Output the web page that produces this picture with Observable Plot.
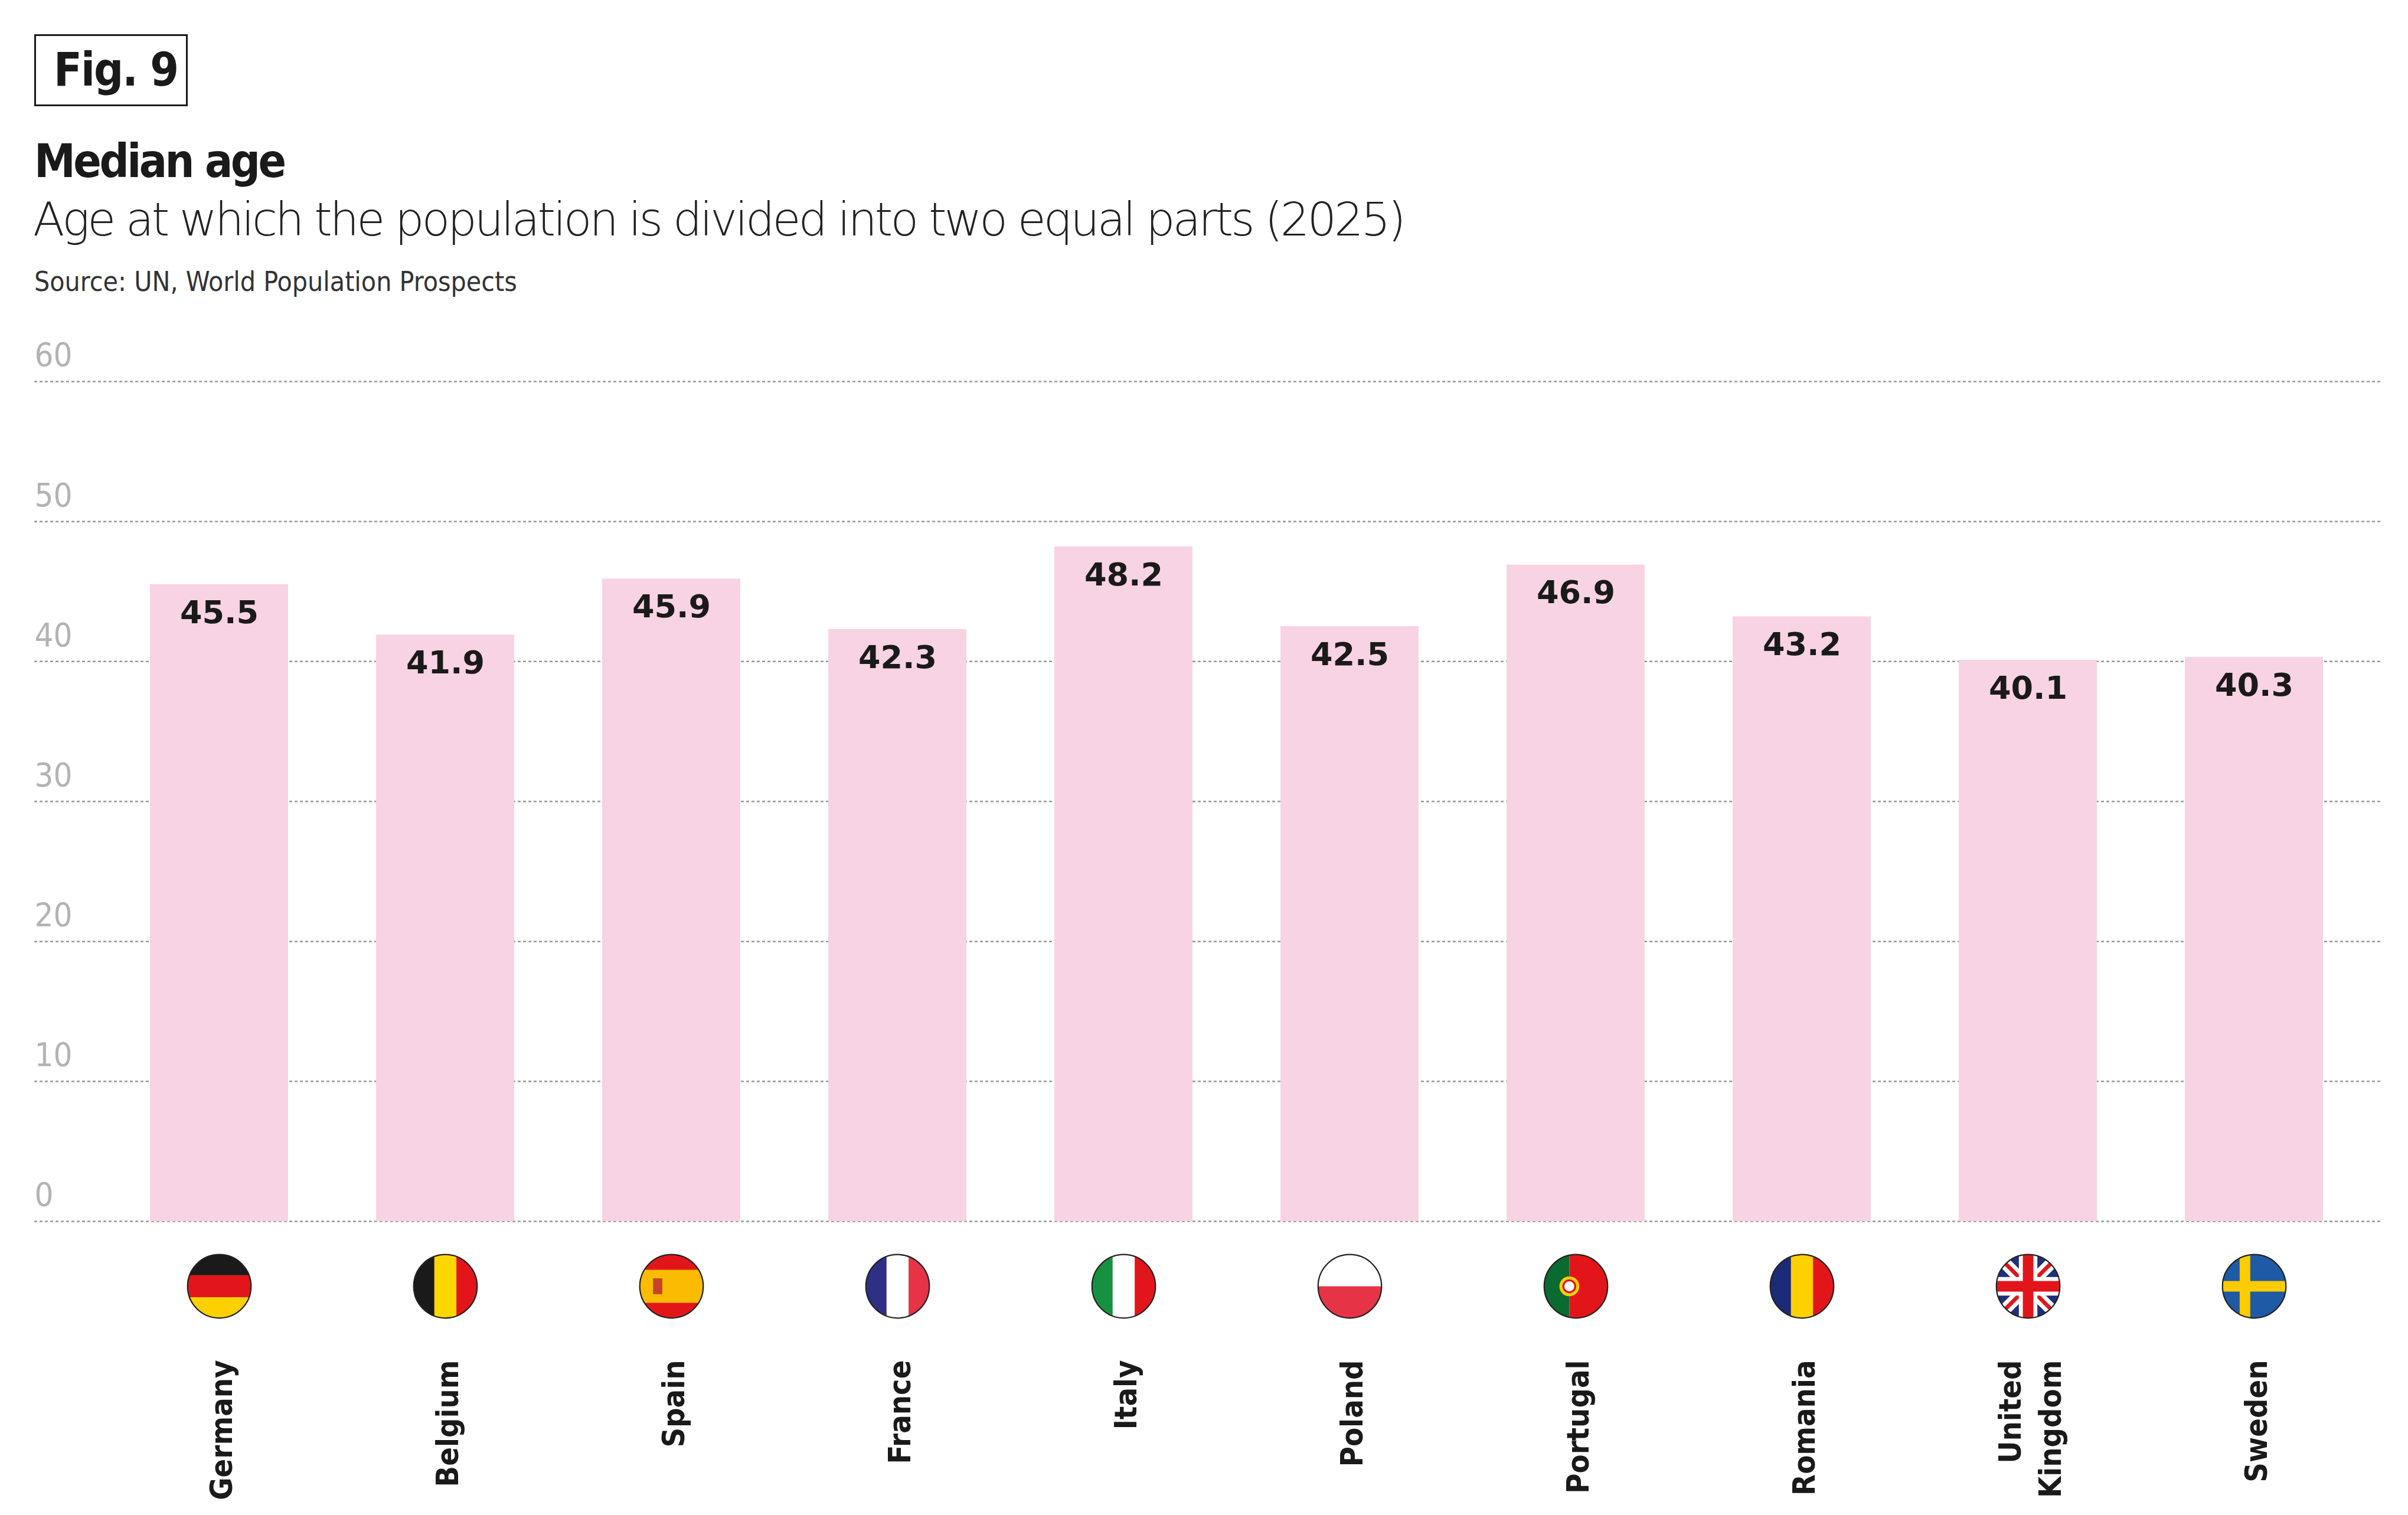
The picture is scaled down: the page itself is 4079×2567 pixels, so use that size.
<!DOCTYPE html>
<html><head><meta charset="utf-8">
<script src="https://cdn.jsdelivr.net/npm/d3@7"></script>
<script src="https://cdn.jsdelivr.net/npm/@observablehq/plot@0.6"></script>
<style>
body{margin:0;background:#fff;width:4079px;height:2567px;overflow:hidden;font-family:"DejaVu Sans Condensed","DejaVu Sans",sans-serif;color:#1a1a1a}
#fig{position:absolute;left:58px;top:58px;width:260px;height:122px;border:3px solid #1a1a1a;box-sizing:border-box;font-weight:bold;font-size:78px;line-height:114px;padding-left:30px;letter-spacing:-2px}
#title{position:absolute;left:58px;top:228px;font-weight:bold;font-size:78px;letter-spacing:-3.5px}
#sub{position:absolute;left:56px;top:327px;font-family:"DejaVu Sans";font-weight:200;font-size:78px;letter-spacing:-4px;color:#222}
#src{position:absolute;left:58px;top:450px;font-family:"DejaVu Sans Condensed";font-weight:300;font-size:46px;color:#333}
#chart{position:absolute;left:0;top:550px}
</style></head><body>
<div id="fig">Fig. 9</div>
<div id="title">Median age</div>
<div id="sub">Age at which the population is divided into two equal parts (2025)</div>
<div id="src">Source: UN, World Population Prospects</div>
<div id="chart"></div>
<script>
const countries = ["Germany","Belgium","Spain","France","Italy","Poland","Portugal","Romania","United Kingdom","Sweden"];
const values = [45.5,41.9,45.9,42.3,48.2,42.5,46.9,43.2,40.1,40.3];
const yTicks = [0,10,20,30,40,50,60];
const flagSvgs = {
  Germany:'<rect width="100" height="33.4" fill="#1a1a1a"/><rect y="33.3" width="100" height="33.4" fill="#e2161a"/><rect y="66.6" width="100" height="33.4" fill="#fdd000"/>',
  Belgium:'<rect width="33.4" height="100" fill="#1a1a1a"/><rect x="33.3" width="33.4" height="100" fill="#fdd800"/><rect x="66.6" width="33.4" height="100" fill="#e2161a"/>',
  Spain:'<rect width="100" height="100" fill="#e2161a"/><rect y="25" width="100" height="50" fill="#fbbb00"/><rect x="22" y="38" width="14" height="24" fill="#c8412a"/>',
  France:'<rect width="33.4" height="100" fill="#2f2f86"/><rect x="33.3" width="33.4" height="100" fill="#fff"/><rect x="66.6" width="33.4" height="100" fill="#e63346"/>',
  Italy:'<rect width="33.4" height="100" fill="#169140"/><rect x="33.3" width="33.4" height="100" fill="#fff"/><rect x="66.6" width="33.4" height="100" fill="#e2161a"/>',
  Poland:'<rect width="100" height="50" fill="#fff"/><rect y="50" width="100" height="50" fill="#e63346"/>',
  Portugal:'<rect width="40" height="100" fill="#0a6a30"/><rect x="40" width="60" height="100" fill="#e2161a"/><circle cx="40" cy="50" r="15" fill="#fbd000"/><circle cx="40" cy="50" r="9" fill="#fff" stroke="#e2161a" stroke-width="3"/>',
  Romania:'<rect width="33.4" height="100" fill="#1c2a7a"/><rect x="33.3" width="33.4" height="100" fill="#fdd000"/><rect x="66.6" width="33.4" height="100" fill="#e2161a"/>',
  "United Kingdom":'<rect width="100" height="100" fill="#1f2f7a"/><path d="M0 0L100 100M100 0L0 100" stroke="#fff" stroke-width="18"/><path d="M0 0L100 100M100 0L0 100" stroke="#e2161a" stroke-width="6"/><path d="M50 0V100M0 50H100" stroke="#fff" stroke-width="28"/><path d="M50 0V100M0 50H100" stroke="#e2161a" stroke-width="16"/>',
  Sweden:'<rect width="100" height="100" fill="#1f5aa6"/><rect x="28" width="16" height="100" fill="#fdcc00"/><rect y="42" width="100" height="16" fill="#fdcc00"/>'
};
const flagSrc = c => "data:image/svg+xml;utf8," + encodeURIComponent(
  '<svg xmlns="http://www.w3.org/2000/svg" viewBox="0 0 100 100"><defs><clipPath id="c"><circle cx="50" cy="50" r="48"/></clipPath></defs><g clip-path="url(#c)">' + flagSvgs[c] + '</g><circle cx="50" cy="50" r="48" fill="none" stroke="#222" stroke-width="2"/></svg>');
const data = countries.map((c,i)=>({country:c, value:values[i], flag:flagSrc(c), label:c.replace(" ","\n")}));

const chart = Plot.plot({
  width:4079, height:2017,
  marginLeft:58, marginRight:44, marginTop:96, marginBottom:498,
  x:{domain:countries, range:[176,4012], paddingInner:0.39, paddingOuter:0.195, axis:null},
  y:{domain:[0,60], range:[1519,96], axis:null},
  style:{fontFamily:"DejaVu Sans Condensed", background:"transparent"},
  marks:[
    Plot.ruleY(yTicks,{stroke:"#999",strokeWidth:2.5,strokeDasharray:"5,4"}),
    Plot.text(yTicks,{y:d=>d,text:d=>String(d),frameAnchor:"left",textAnchor:"start",dy:-44,fill:"#b3b3b3",fontSize:56}),
    Plot.barY(data,{x:"country",y:"value",fill:"#f8d3e3"}),
    Plot.text(data,{x:"country",y:"value",text:d=>d.value.toFixed(1),dy:48,fontSize:54,fontWeight:"bold",fill:"#1a1a1a",fontFamily:"DejaVu Sans"}),
    Plot.image(data,{x:"country",y:0,src:"flag",width:112,height:112,dy:110}),
    Plot.text(data,{x:"country",y:0,text:"label",rotate:-90,textAnchor:"end",dy:235,fontSize:52,fontWeight:"bold",fill:"#1a1a1a",fontFamily:"DejaVu Sans Condensed",lineHeight:1.3})
  ]
});
document.getElementById("chart").append(chart);
</script>
</body></html>
